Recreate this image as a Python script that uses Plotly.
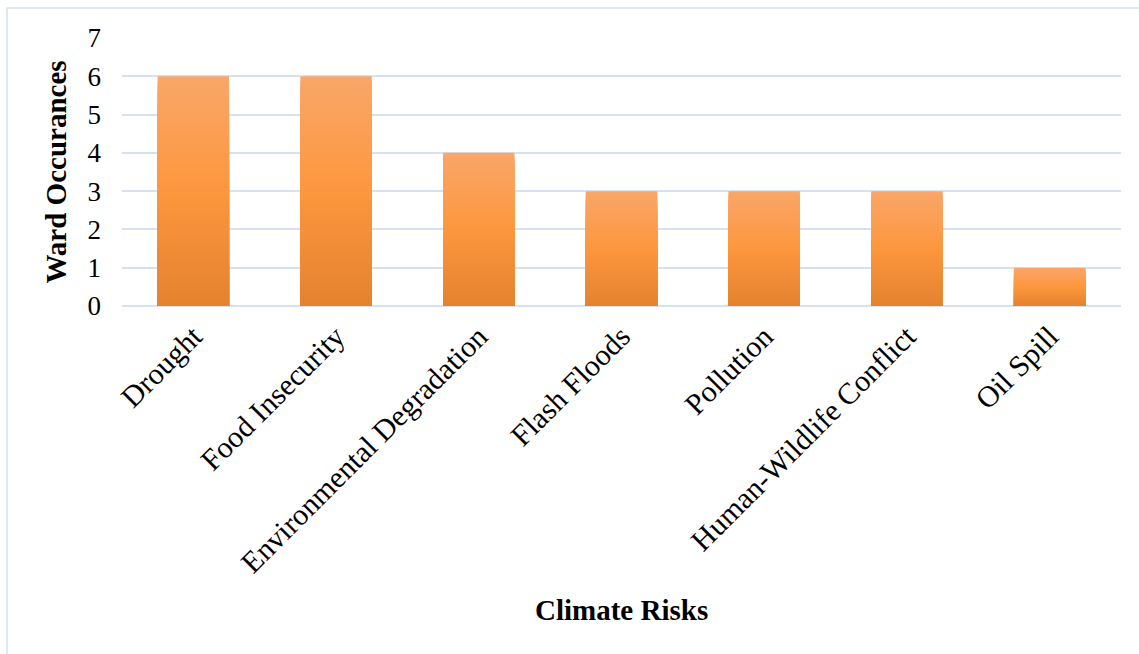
import plotly.graph_objects as go

# Climate risk categories and number of wards reporting each
risks = ["Drought", "Food Insecurity", "Environmental Degradation", "Flash Floods",
         "Pollution", "Human-Wildlife Conflict", "Oil Spill"]
ward_counts = [6, 6, 4, 3, 3, 3, 1]
y_ticks = [0, 1, 2, 3, 4, 5, 6, 7]

W, H = 1139, 654
M_L, M_R, M_T, M_B = 122, 18, 38, 348
FONT = "Liberation Serif, Times New Roman, serif"

# vertical orange gradient: (position from bottom, rgb)
stops = [(0.0, (228, 130, 46)), (0.5, (253, 151, 62)), (1.0, (249, 166, 105))]


def color_at(t):
    for (t0, c0), (t1, c1) in zip(stops[:-1], stops[1:]):
        if t0 <= t <= t1:
            f = (t - t0) / (t1 - t0)
            return "rgb(%d,%d,%d)" % tuple(round(a + (b - a) * f) for a, b in zip(c0, c1))
    return "rgb(%d,%d,%d)" % stops[-1][1]


fig = go.Figure()
N = 48
# overlaid bars, tallest first, each shorter layer shows the next band of the gradient
for k in range(N):
    frac = (N - k) / N
    fig.add_trace(go.Bar(
        x=risks,
        y=[v * frac for v in ward_counts],
        marker=dict(color=color_at((N - k - 0.5) / N), line=dict(width=0)),
        hoverinfo="skip" if k else None,
        showlegend=False,
    ))

plot_w = W - M_L - M_R
plot_h = H - M_T - M_B


def px_x(p):
    return (p - M_L) / plot_w


def px_y(p):
    return (H - M_B - p) / plot_h


fig.update_layout(
    width=W, height=H,
    margin=dict(l=M_L, r=M_R, t=M_T, b=M_B, autoexpand=False),
    paper_bgcolor="white", plot_bgcolor="white",
    barmode="overlay", bargap=0.5,
    font=dict(family=FONT, color="black"),
    xaxis=dict(
        tickangle=-45, tickfont=dict(size=30, family=FONT),
        showgrid=False, showline=False, zeroline=False, ticks="",
        ticklabelstandoff=6, automargin=False,
    ),
    yaxis=dict(
        range=[0, 7], tickvals=y_ticks, tickfont=dict(size=27, family=FONT),
        showgrid=True, gridcolor="#D6E1F2", gridwidth=1.5,
        zeroline=True, zerolinecolor="#D6E1F2", zerolinewidth=1.5,
        showline=False, ticks="", ticklabelstandoff=20,
        title=dict(text="<b>Ward Occurances</b>", font=dict(size=29, family=FONT), standoff=12),
        automargin=False,
    ),
    annotations=[dict(
        text="<b>Climate Risks</b>", xref="paper", yref="paper",
        x=0.5, y=px_y(610), xanchor="center", yanchor="middle",
        showarrow=False, font=dict(size=29, family=FONT),
    )],
    shapes=[dict(
        type="rect", xref="paper", yref="paper", layer="below",
        x0=px_x(7), y0=px_y(8), x1=px_x(W + 20), y1=px_y(H + 20),
        line=dict(color="#D6E1F2", width=1.5), fillcolor="rgba(0,0,0,0)",
    )],
)

fig.write_html("out.html")
